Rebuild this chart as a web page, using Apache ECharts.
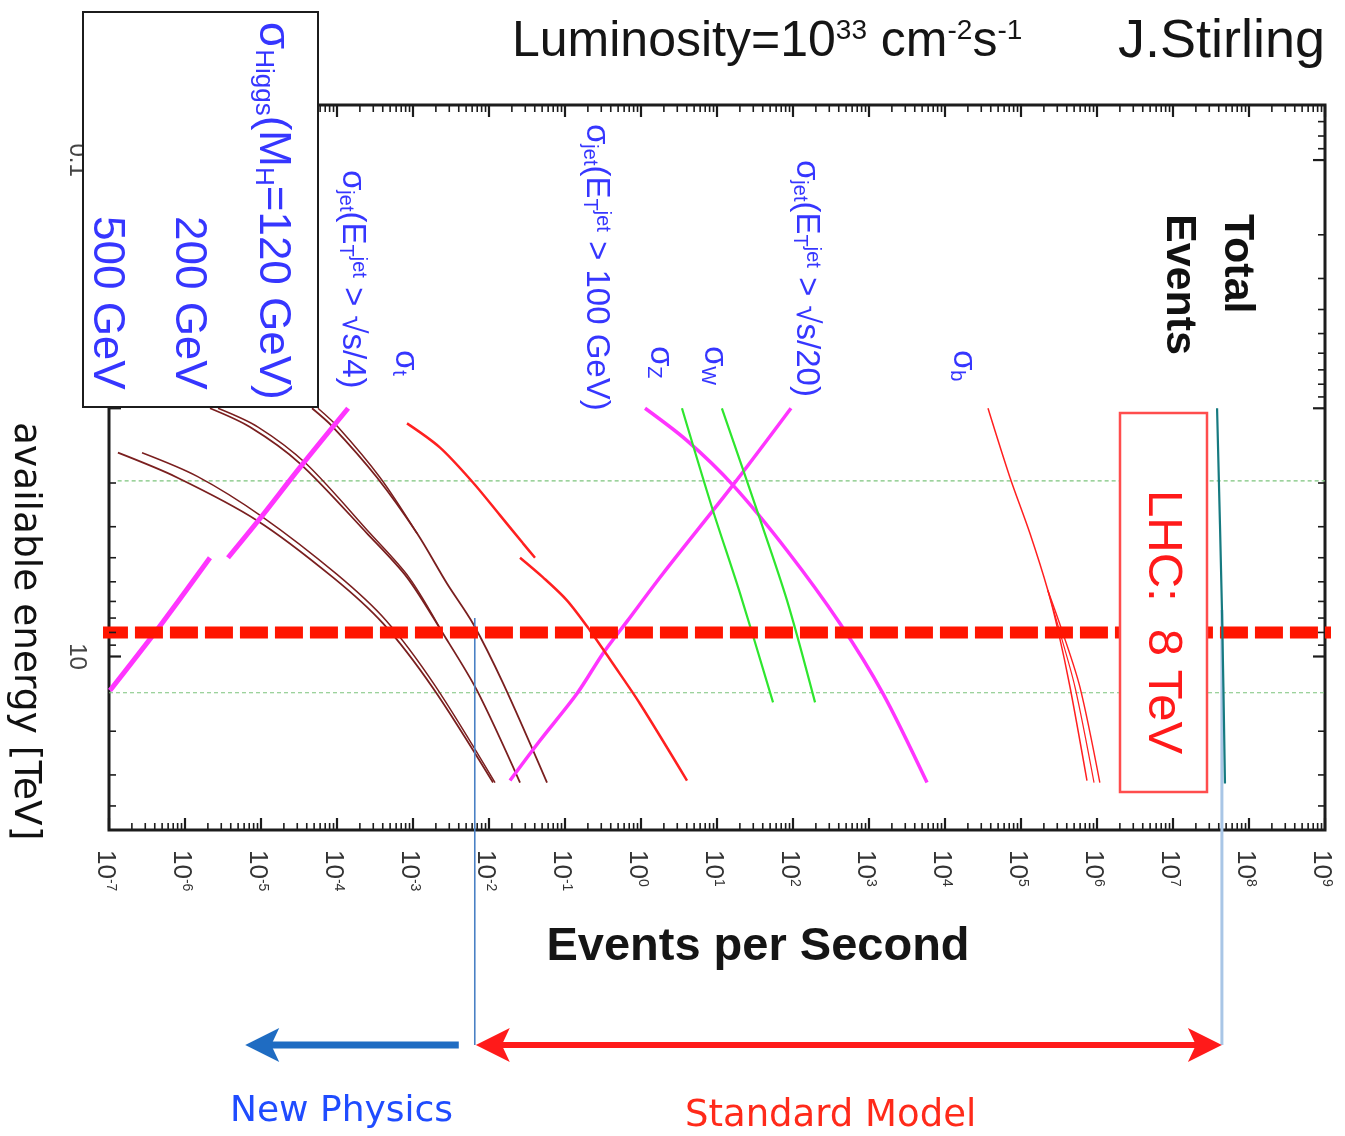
<!DOCTYPE html>
<html>
<head>
<meta charset="utf-8">
<script src="https://cdn.jsdelivr.net/npm/echarts/dist/echarts.min.js"></script>
<style>
  html, body { margin: 0; padding: 0; background: #ffffff; }
  #chart { width: 1345px; height: 1136px; }
</style>
</head>
<body>
<div id="chart"></div>
<script>
// Event rates at L = 1e33 cm^-2 s^-1 (x, events per second) versus collider energy sqrt(s) (y, TeV).
// Each point is [eventsPerSecond, energyTeV].

// Higgs production, M_H = 500 / 200 / 120 GeV (two nearby curves each)
const higgs500a = [[1.31e-7, 1.51], [7.85e-7, 1.90], [8.85e-6, 2.83], [8.85e-5, 4.80], [4.03e-4, 7.36], [1.83e-3, 13.4], [0.0113, 32.2]];
const higgs500b = [[2.72e-7, 1.51], [1.45e-6, 1.88], [1.03e-5, 2.73], [1.0e-4, 4.67], [4.42e-4, 7.16], [1.95e-3, 13.1], [0.0120, 32.2]];
const higgs200a = [[2.13e-6, 1.0], [7.16e-6, 1.19], [3.26e-5, 1.67], [2.48e-4, 3.19], [8.34e-4, 4.80], [2.48e-3, 8.08], [6.95e-3, 13.7], [0.0256, 32.2]];
const higgs200b = [[2.72e-6, 1.0], [9.14e-6, 1.19], [3.91e-5, 1.67], [2.72e-4, 3.19], [8.85e-4, 4.80], [2.48e-3, 8.08]];
const higgs120a = [[4.69e-5, 1.0], [8.85e-5, 1.19], [3.36e-4, 1.90], [1.13e-3, 3.19], [2.80e-3, 5.08], [6.15e-3, 7.36], [0.0153, 12.8], [0.0580, 32.2]];
const higgs120b = [[5.62e-5, 1.0], [1.03e-4, 1.19], [3.68e-4, 1.90], [1.13e-3, 3.19]];

// Jets with E_T > sqrt(s)/4 (p-pbar below 4 TeV, p-p above)
const jetQuarterLow = [[1.40e-4, 1.0], [3.26e-5, 1.73], [9.7e-6, 2.78], [3.68e-6, 4.0]];
const jetQuarterHigh = [[2.13e-6, 4.0], [4.42e-7, 7.71], [1.03e-7, 13.7]];
// Jets with E_T > sqrt(s)/20
const jetTwentieth = [[94, 1.0], [16.2, 2.04], [1.95, 4.63], [0.655, 7.22], [0.316, 9.72], [0.144, 14.1], [0.0469, 21.8], [0.0189, 31.6]];
// Jets with E_T > 100 GeV
const jet100 = [[1.13, 1.0], [4.03, 1.35], [16.2, 2.04], [83.4, 3.74], [415, 7.36], [1528, 14.1], [5800, 32.2]];

// W and Z
const sigmaZ = [[3.46, 1.0], [8.59, 2.51], [20.1, 5.57], [54.6, 15.3]];
const sigmaW = [[11.6, 1.0], [33.6, 2.58], [83.4, 5.94], [195, 15.3]];

// Top pairs
const topLow = [[8.34e-4, 1.15], [2.27e-3, 1.44], [6.15e-3, 1.99], [0.0140, 2.70], [0.0280, 3.50], [0.0403, 4.0]];
const topHigh = [[0.0256, 4.0], [0.0514, 4.80], [0.106, 5.94], [0.213, 7.85], [0.428, 10.7], [0.97, 15.5], [4.03, 31.6]];

// b quarks
const bottomA = [[3.68e4, 1.0], [7.16e4, 1.90], [1.31e5, 3.19], [2.26e5, 5.42], [3.07e5, 7.85], [4.42e5, 13.3], [7.38e5, 31.6]];
const bottomB = [[2.26e5, 5.42], [3.20e5, 7.85], [5.14e5, 13.3], [9.14e5, 32.2]];
const bottomC = [[2.26e5, 5.42], [3.46e5, 7.85], [5.97e5, 13.3], [1.09e6, 32.2]];

// Total inelastic rate
const totalEvents = [[3.8e7, 1.0], [4.42e7, 6.71], [4.83e7, 32.5]];

// Reference energies (TeV)
const tevatronEnergy = 1.96;
const lhcDesignEnergy = 14;
const lhcRunEnergy = 8;

// Rate boundaries for the lower arrows (events per second)
const newPhysicsLimit = 6.5e-3;
const newPhysicsArrowEnd = 6.2e-6;
const totalRate = 4.4e7;
const boundaryTopEnergy = 7.0;

// Axis ranges and ticks
const xMin = 1e-7, xMax = 1e9;
const yMin = 0.06, yMax = 50;
const xMajorTicks = [1e-7, 1e-6, 1e-5, 1e-4, 1e-3, 1e-2, 1e-1, 1, 10, 100, 1e3, 1e4, 1e5, 1e6, 1e7, 1e8, 1e9];
const xTickExponents = ['-7', '-6', '-5', '-4', '-3', '-2', '-1', '0', '1', '2', '3', '4', '5', '6', '7', '8', '9'];
const yMajorTicks = [0.1, 1, 10];
const yMinorTicks = [0.06, 0.07, 0.08, 0.09, 0.2, 0.3, 0.4, 0.5, 0.6, 0.7, 0.8, 0.9, 2, 3, 4, 5, 6, 7, 8, 9, 20, 30, 40];
const yTickLabels = ['0.1', '10'];
const yTickLabelValues = [0.1, 10];
const minorSteps = [2, 3, 4, 5, 6, 7, 8, 9];

const tickItems = [];
xMajorTicks.forEach((v, i) => {
  tickItems.push({ axis: 'x', value: v, major: true });
  if (i < xMajorTicks.length - 1) {
    minorSteps.forEach(k => tickItems.push({ axis: 'x', value: k * v, major: false }));
  }
});
yMajorTicks.forEach(v => tickItems.push({ axis: 'y', value: v, major: true }));
yMinorTicks.forEach(v => tickItems.push({ axis: 'y', value: v, major: false }));

const BLUE = '#3636ff';
const MAGENTA = '#ff35ff';
const GREEN = '#2ee62e';
const RED = '#ff2020';
const BROWN = '#7a1f1f';

function curve(data, color, width, z) {
  return {
    type: 'line', data: data, symbol: 'none', showSymbol: false, silent: true, smooth: 0.3,
    animation: false, lineStyle: { color: color, width: width }, z: z || 3
  };
}

function hLine(x0, x1, energy, style, z) {
  return {
    type: 'line', data: [[x0, energy], [x1, energy]], symbol: 'none', showSymbol: false,
    silent: true, animation: false, clip: false, lineStyle: style, z: z
  };
}

function rotText(x, y, text, opts) {
  return {
    type: 'text', x: x, y: y, rotation: -Math.PI / 2, z: 100,
    style: Object.assign({
      text: text, fill: BLUE, fontFamily: 'Liberation Sans', fontSize: 33,
      align: 'left', verticalAlign: 'middle', textAlign: 'left', textVerticalAlign: 'middle'
    }, opts || {})
  };
}

const sub = (size) => ({ fontSize: size, verticalAlign: 'bottom', fill: BLUE, fontFamily: 'Liberation Sans' });
const sup = (size) => ({ fontSize: size, verticalAlign: 'top', fill: BLUE, fontFamily: 'Liberation Sans' });
const labelRich = { s: sub(20), p: sup(20) };

const chart = echarts.init(document.getElementById('chart'));

const option = {
  animation: false,
  backgroundColor: '#ffffff',
  grid: { left: 109, top: 105, width: 1216, height: 725, show: true, borderColor: '#1c1c1c', borderWidth: 3, backgroundColor: 'transparent' },
  xAxis: {
    type: 'log', logBase: 10, min: xMin, max: xMax,
    axisLine: { show: false }, axisTick: { show: false }, axisLabel: { show: false }, splitLine: { show: false }
  },
  yAxis: {
    type: 'log', logBase: 10, min: yMin, max: yMax, inverse: true,
    axisLine: { show: false }, axisTick: { show: false }, axisLabel: { show: false }, splitLine: { show: false }
  },
  series: [
    // reference energies
    hLine(1.3e-7, xMax, tevatronEnergy, { color: '#7cc47c', width: 1.2, type: [4, 3] }, 1),
    hLine(xMin, xMax, lhcDesignEnergy, { color: '#7cc47c', width: 1.2, type: [4, 3] }, 1),

    curve(higgs500a, BROWN, 1.8), curve(higgs500b, BROWN, 1.5),
    curve(higgs200a, BROWN, 1.8), curve(higgs200b, BROWN, 1.5),
    curve(higgs120a, BROWN, 1.8), curve(higgs120b, BROWN, 1.5),

    curve(jetQuarterLow, MAGENTA, 5), curve(jetQuarterHigh, MAGENTA, 5),
    curve(jetTwentieth, MAGENTA, 3.5), curve(jet100, MAGENTA, 3.5),

    curve(sigmaZ, GREEN, 2.2), curve(sigmaW, GREEN, 2.2),

    curve(topLow, RED, 2.5), curve(topHigh, RED, 2.5),

    curve(bottomA, RED, 1.5), curve(bottomB, RED, 1.2), curve(bottomC, RED, 1.4),

    // LHC run energy
    hLine(7.6e-8, 1.24e9, lhcRunEnergy, { color: '#ff1500', width: 12, type: [28, 7], cap: 'butt' }, 6),

    curve(totalEvents, '#167a80', 2.2, 8),

    // axis ticks on all four sides
    {
      type: 'custom', silent: true, clip: false, z: 10,
      data: tickItems.map(t => (t.axis === 'x' ? [t.value, 1] : [1, t.value])),
      renderItem: function (params, api) {
        const t = tickItems[params.dataIndex];
        const cs = params.coordSys;
        const len = t.major ? 12 : 7;
        const style = { stroke: '#1c1c1c', lineWidth: t.major ? 2.2 : 1.6 };
        if (t.axis === 'x') {
          const px = api.coord([t.value, 1])[0];
          const b = cs.y + cs.height;
          return { type: 'group', children: [
            { type: 'line', shape: { x1: px, y1: b, x2: px, y2: b - len }, style: style },
            { type: 'line', shape: { x1: px, y1: cs.y, x2: px, y2: cs.y + len }, style: style }
          ] };
        }
        const py = api.coord([1, t.value])[1];
        const r = cs.x + cs.width;
        return { type: 'group', children: [
          { type: 'line', shape: { x1: cs.x, y1: py, x2: cs.x + len, y2: py }, style: style },
          { type: 'line', shape: { x1: r, y1: py, x2: r - len, y2: py }, style: style }
        ] };
      }
    },
    // x tick labels 10^n, rotated
    {
      type: 'custom', silent: true, clip: false, z: 10,
      data: xMajorTicks.map(v => [v, 1]),
      renderItem: function (params, api) {
        const cs = params.coordSys;
        const px = api.coord([api.value(0), 1])[0];
        return {
          type: 'text', x: px - 4, y: cs.y + cs.height + 20, rotation: -Math.PI / 2,
          style: {
            text: '10{e|' + xTickExponents[params.dataIndex] + '}',
            fontFamily: 'Liberation Sans', fontSize: 26, fill: '#333',
            align: 'left', verticalAlign: 'middle',
            rich: { e: { fontSize: 14, verticalAlign: 'top', fill: '#333', fontFamily: 'Liberation Sans' } }
          }
        };
      }
    },
    // y tick labels
    {
      type: 'custom', silent: true, clip: false, z: 10,
      data: yTickLabelValues.map(v => [1, v]),
      renderItem: function (params, api) {
        const cs = params.coordSys;
        const py = api.coord([1, api.value(1)])[1];
        return {
          type: 'text', x: cs.x - 32, y: py, rotation: -Math.PI / 2,
          style: {
            text: yTickLabels[params.dataIndex], fontFamily: 'Liberation Sans', fontSize: 24,
            fill: '#444', align: 'center', verticalAlign: 'middle'
          }
        };
      }
    },
    // rate boundaries and the arrows below the axis
    {
      type: 'custom', silent: true, clip: false, z: 5,
      data: [[newPhysicsLimit, boundaryTopEnergy, totalRate, newPhysicsArrowEnd]],
      dimensions: ['limit', 'energy', 'total', 'arrowEnd'],
      encode: { x: 'limit', y: 'energy' },
      renderItem: function (params, api) {
        const cs = params.coordSys;
        const e = api.value(1);
        const a = api.coord([api.value(0), e]);
        const b = api.coord([api.value(2), e]);
        const xe = api.coord([api.value(3), e])[0];
        const ya = cs.y + cs.height + 215;
        const head = (tip, dir, color) => ({
          type: 'polygon',
          shape: { points: [[tip, ya], [tip + dir * 34, ya - 17], [tip + dir * 26, ya], [tip + dir * 34, ya + 17]] },
          style: { fill: color }
        });
        return { type: 'group', children: [
          { type: 'line', shape: { x1: b[0], y1: b[1] - 8, x2: b[0], y2: ya }, style: { stroke: '#a9c6e6', lineWidth: 3 } },
          { type: 'line', shape: { x1: a[0], y1: a[1], x2: a[0], y2: ya }, style: { stroke: '#4a80c4', lineWidth: 1.6 } },
          { type: 'line', shape: { x1: a[0] + 24, y1: ya, x2: b[0] - 24, y2: ya }, style: { stroke: '#ff1a1a', lineWidth: 6 } },
          head(a[0] + 1, 1, '#ff1a1a'),
          head(b[0], -1, '#ff1a1a'),
          { type: 'line', shape: { x1: xe + 24, y1: ya, x2: a[0] - 16, y2: ya }, style: { stroke: '#1f6cc2', lineWidth: 7 } },
          head(xe, 1, '#1f6cc2')
        ] };
      }
    }
  ],
  graphic: [
    // Higgs legend box
    { type: 'rect', z: 100, shape: { x: 83, y: 12, width: 235, height: 395 }, style: { fill: '#ffffff', stroke: '#1c1c1c', lineWidth: 2 } },
    rotText(272, 22, 'σ{s|Higgs}(M{s|H}=120 GeV)', { fontSize: 44, rich: { s: sub(26) } }),
    rotText(188, 216, '200 GeV', { fontSize: 44 }),
    rotText(106, 216, '500 GeV', { fontSize: 44 }),

    // curve labels
    rotText(352, 170, 'σ{s|jet}(E{s|T}{p|jet} > √s/4)', { rich: labelRich }),
    rotText(405, 350, 'σ{s|t}', { rich: labelRich }),
    rotText(596, 124, 'σ{s|jet}(E{s|T}{p|jet} > 100 GeV)', { rich: labelRich }),
    rotText(660, 346, 'σ{s|Z}', { rich: labelRich }),
    rotText(714, 346, 'σ{s|W}', { rich: labelRich }),
    rotText(806, 160, 'σ{s|jet}(E{s|T}{p|jet} > √s/20)', { rich: labelRich }),
    rotText(963, 350, 'σ{s|b}', { rich: labelRich }),

    rotText(1237, 214, 'Total', { fill: '#111', fontSize: 43, fontWeight: 'bold' }),
    rotText(1179, 214, 'Events', { fill: '#111', fontSize: 43, fontWeight: 'bold' }),

    // LHC run box
    { type: 'rect', z: 100, shape: { x: 1120, y: 413, width: 87, height: 379 }, style: { fill: '#ffffff', stroke: '#ff4d4d', lineWidth: 2.5 } },
    rotText(1163, 490, 'LHC:  8 TeV', { fill: '#ff1a1a', fontSize: 49 }),

    // titles
    { type: 'text', z: 100, x: 512, y: 42, style: {
        text: 'Luminosity=10{u|33} cm{u|-2}s{u|-1}', fontFamily: 'Liberation Sans', fontSize: 50, fill: '#151515',
        align: 'left', verticalAlign: 'middle',
        rich: { u: { fontSize: 28, verticalAlign: 'top', fill: '#151515', fontFamily: 'Liberation Sans' } } } },
    { type: 'text', z: 100, x: 1118, y: 42, style: {
        text: 'J.Stirling', fontFamily: 'Liberation Sans', fontSize: 54, fill: '#151515', align: 'left', verticalAlign: 'middle' } },
    { type: 'text', z: 100, x: 758, y: 947, style: {
        text: 'Events per Second', fontFamily: 'Liberation Sans', fontSize: 47, fontWeight: 'bold', fill: '#151515',
        align: 'center', verticalAlign: 'middle' } },
    rotText(25, 422, 'available energy [TeV]', { fill: '#111', fontFamily: 'DejaVu Sans', fontSize: 37.5 }),
    { type: 'text', z: 100, x: 230, y: 1112, style: {
        text: 'New Physics', fontFamily: 'DejaVu Sans', fontSize: 36, fill: '#1f4cff', align: 'left', verticalAlign: 'middle' } },
    { type: 'text', z: 100, x: 685, y: 1116, style: {
        text: 'Standard Model', fontFamily: 'DejaVu Sans', fontSize: 37, fill: '#ff2a1a', align: 'left', verticalAlign: 'middle' } }
  ]
};

chart.setOption(option);
</script>
</body>
</html>
